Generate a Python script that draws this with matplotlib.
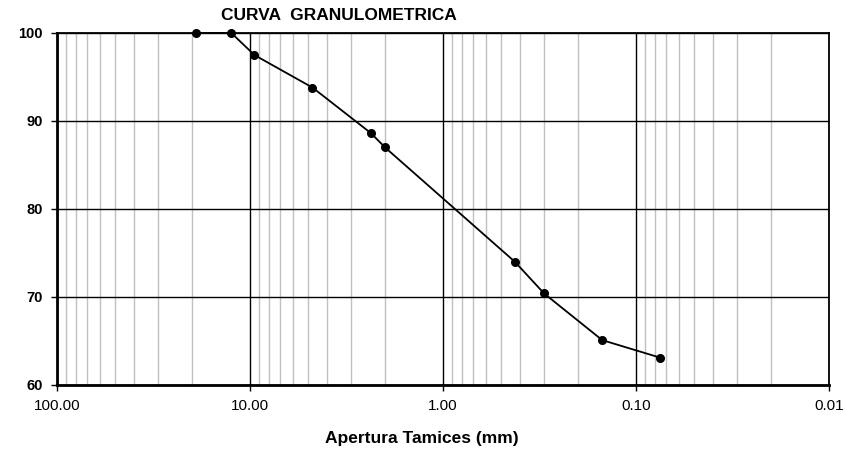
import numpy as np
import matplotlib.pyplot as plt
from matplotlib.ticker import FixedLocator, LogLocator, NullFormatter

plt.rcParams['font.family'] = ['Liberation Sans', 'DejaVu Sans']

# abertura de tamices (mm) y % que pasa
aperturas = [19.05, 12.5, 9.5, 4.75, 2.36, 2.0, 0.425, 0.30, 0.15, 0.075]
pasa = [100.0, 100.0, 97.5, 93.8, 88.6, 87.0, 74.0, 70.4, 65.1, 63.1]

x_ticks = [100, 10, 1, 0.1, 0.01]
x_labels = ['100.00', '10.00', '1.00', '0.10', '0.01']
y_ticks = [60, 70, 80, 90, 100]

fig = plt.figure(figsize=(8.47, 4.54), dpi=100)
ax = fig.add_axes([57/847, 1-385/454, (829.3-57)/847, (385-33)/454])

ax.set_xscale('log')
ax.set_xlim(100, 0.01)
ax.set_ylim(60, 100)

ax.xaxis.set_major_locator(FixedLocator(x_ticks))
ax.set_xticklabels(x_labels)
ax.xaxis.set_minor_locator(LogLocator(base=10, subs=np.arange(2, 10)))
ax.xaxis.set_minor_formatter(NullFormatter())
ax.set_yticks(y_ticks)

ax.grid(which='minor', axis='x', color='#c0c0c0', lw=1.0)
ax.grid(which='major', axis='both', color='black', lw=1.0)
ax.set_axisbelow(True)

ax.plot(aperturas, pasa, '-o', color='black', lw=1.3, ms=5.5, clip_on=False, zorder=5)

for s in ['left', 'bottom']:
    ax.spines[s].set_linewidth(2.0)
for s in ['top', 'right']:
    ax.spines[s].set_linewidth(1.3)

ax.tick_params(axis='x', which='major', length=4, width=1, labelsize=11, pad=6)
ax.tick_params(axis='x', which='minor', length=0)
ax.tick_params(axis='y', length=4, width=1, labelsize=10.5, pad=6)
for t in ax.get_yticklabels():
    t.set_fontweight('bold')

fig.text(339/847, 1-15/454, 'CURVA  GRANULOMETRICA', ha='center', va='center',
         fontsize=12.5, fontweight='bold')
fig.text(422/847, 1-438/454, 'Apertura Tamices (mm)', ha='center', va='center',
         fontsize=12.5, fontweight='bold')

fig.savefig('out.png', dpi=100)
